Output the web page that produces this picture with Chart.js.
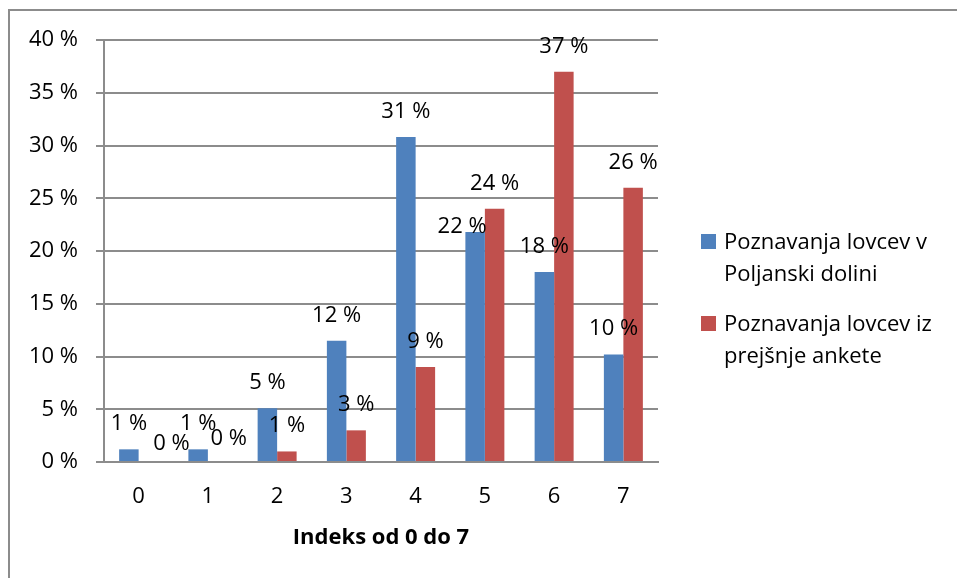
<!DOCTYPE html>
<html>
<head>
<meta charset="utf-8">
<script src="https://cdn.jsdelivr.net/npm/chart.js@4.4.1/dist/chart.umd.min.js"></script>
<style>
  html, body { margin: 0; padding: 0; background: #fff; }
  #wrap { width: 957px; height: 578px; }
</style>
</head>
<body>
<div id="wrap"><canvas id="indexChart" width="957" height="578"></canvas></div>
<script>
// Categories (index 0-7)
const categories = ['0', '1', '2', '3', '4', '5', '6', '7'];

// Series values in percent
const poljanskaValues = [1.2, 1.2, 5.1, 11.5, 30.8, 21.8, 18.0, 10.2];
const prejsnjaValues = [0, 0, 1, 3, 9, 24, 37, 26];

// Series names, split the way the legend wraps them
const poljanskaName = ['Poznavanja lovcev v', 'Poljanski dolini'];
const prejsnjaName = ['Poznavanja lovcev iz', 'prejšnje ankete'];

// Y axis tick settings
const yMin = 0;
const yMax = 40;
const yStep = 5;
const xTitle = 'Indeks od 0 do 7';

const FONT = "'Open Sans', 'DejaVu Sans', sans-serif";
const GRID = '#8c8c8c';
const BLUE = '#4F81BD';
const RED = '#C0504D';

// Outer frame around the whole chart
const framePlugin = {
  id: 'frame',
  beforeDraw: (chart) => {
    const { ctx } = chart;
    ctx.save();
    ctx.fillStyle = '#fff';
    ctx.fillRect(0, 0, chart.width, chart.height);
    ctx.strokeStyle = GRID;
    ctx.lineWidth = 2;
    ctx.strokeRect(9, 10, 1000, 1000);
    ctx.restore();
  }
};

// Value labels above the bars (a few were moved by hand in the original)
const labelNudge = { '1-0': [23, 7], '1-1': [11, 2], '0-5': [-13, 20] };
const valueLabelPlugin = {
  id: 'valueLabels',
  afterDatasetsDraw: (chart) => {
    const { ctx } = chart;
    ctx.save();
    ctx.font = '22px ' + FONT;
    ctx.fillStyle = '#000';
    ctx.textAlign = 'center';
    ctx.textBaseline = 'alphabetic';
    chart.data.datasets.forEach((ds, i) => {
      chart.getDatasetMeta(i).data.forEach((bar, j) => {
        const nudge = labelNudge[i + '-' + j] || [0, 0];
        ctx.fillText(Math.round(ds.data[j]) + ' %', bar.x + nudge[0], bar.y - 19 + nudge[1]);
      });
    });
    ctx.restore();
  }
};

// Legend on the right, with wrapped series names
const sideLegendPlugin = {
  id: 'sideLegend',
  afterDraw: (chart) => {
    const { ctx } = chart;
    const tops = [234, 316];
    ctx.save();
    ctx.font = '22px ' + FONT;
    ctx.fillStyle = '#000';
    ctx.textAlign = 'left';
    ctx.textBaseline = 'alphabetic';
    chart.data.datasets.forEach((ds, i) => {
      ctx.fillStyle = ds.backgroundColor;
      ctx.fillRect(701, tops[i], 15, 15);
      ctx.fillStyle = '#000';
      ds.nameLines.forEach((line, k) => {
        ctx.fillText(line, 724, tops[i] + 15 + k * 32);
      });
    });
    ctx.restore();
  }
};

const ctx = document.getElementById('indexChart').getContext('2d');
new Chart(ctx, {
  type: 'bar',
  data: {
    labels: categories,
    datasets: [
      {
        label: poljanskaName.join(' '),
        nameLines: poljanskaName,
        data: poljanskaValues,
        backgroundColor: BLUE,
        borderWidth: 0
      },
      {
        label: prejsnjaName.join(' '),
        nameLines: prejsnjaName,
        data: prejsnjaValues,
        backgroundColor: RED,
        borderWidth: 0
      }
    ]
  },
  options: {
    responsive: false,
    animation: false,
    devicePixelRatio: 1,
    categoryPercentage: 0.563,
    barPercentage: 1,
    layout: {
      padding: { left: 0, top: 40, right: 299, bottom: 0 }
    },
    plugins: {
      legend: { display: false },
      tooltip: { enabled: false }
    },
    scales: {
      x: {
        grid: { display: false, drawTicks: false },
        border: { display: true, color: GRID, width: 2 },
        ticks: {
          color: '#000',
          font: { family: FONT, size: 22 },
          padding: 22
        },
        title: {
          display: true,
          text: xTitle,
          color: '#000',
          font: { family: FONT, size: 22, weight: 'bold' },
          padding: { top: 0, bottom: 27 }
        },
        afterFit: (scale) => { scale.height = 116; }
      },
      y: {
        min: yMin,
        max: yMax,
        grid: {
          color: GRID,
          lineWidth: 2,
          drawTicks: true,
          tickLength: 8,
          tickColor: GRID
        },
        border: { display: true, color: GRID, width: 2 },
        ticks: {
          stepSize: yStep,
          color: '#000',
          font: { family: FONT, size: 22 },
          padding: 18,
          callback: (value) => value + ' %'
        },
        afterFit: (scale) => { scale.width = 104; }
      }
    }
  },
  plugins: [framePlugin, valueLabelPlugin, sideLegendPlugin]
});
</script>
</body>
</html>
